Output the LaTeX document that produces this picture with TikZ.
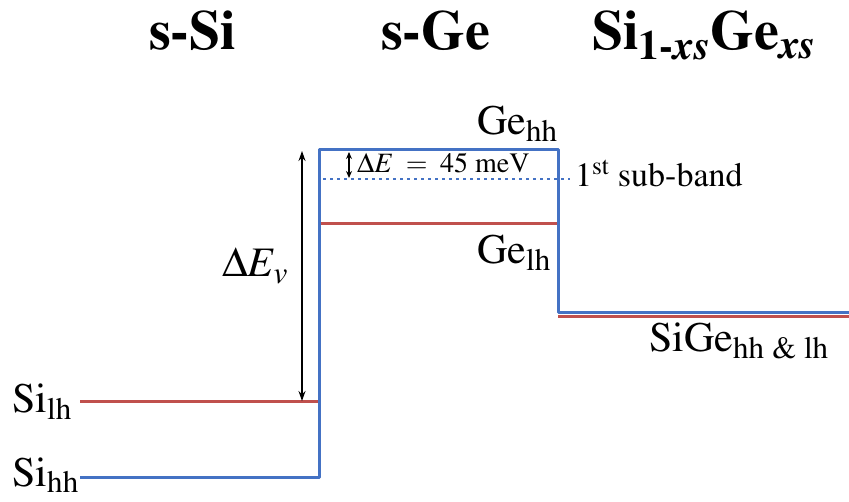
\documentclass[tikz,border=0pt]{standalone}
\usepackage[T1]{fontenc}
\usepackage{mathptmx}
\usetikzlibrary{arrows.meta}

\definecolor{bandblue}{RGB}{68,114,196}
\definecolor{bandred}{RGB}{192,80,77}
\newcommand{\lo}[1]{\textsubscript{#1}}

\tikzset{
  hh/.style={bandblue, line width=3pt},
  lh/.style={bandred, line width=3pt},
  lbl/.style={inner sep=0pt, anchor=base west, font=\fontsize{42}{46}\selectfont},
  ttl/.style={inner sep=0pt, anchor=base west, font=\fontsize{56}{60}\selectfont\bfseries},
}

\begin{document}
\begin{tikzpicture}[x=1pt,y=-1pt]
	\useasboundingbox (0,0) rectangle (849,502);
	% titles
	\node[ttl] (tSi) at (149,50) {s-Si};
	\node[ttl] (tGe) at (381,50) {s-Ge};
	\node[ttl] (tSiGe) at (592,50) {Si\lo{1-\textit{xs}}Ge\lo{\textit{xs}}};
	% corners of the bands
	\coordinate (hhA) at (80,477);
	\coordinate (hhB) at (319,477);
	\coordinate (hhC) at (319,150);
	\coordinate (hhD) at (558,150);
	\coordinate (hhE) at (558,313);
	\coordinate (hhF) at (849,313);
	\coordinate (lhA) at (80,402);
	\coordinate (lhB) at (319,402);
	\coordinate (lhC) at (319,224);
	\coordinate (lhD) at (558,224);
	\coordinate (lhE) at (558,317);
	\coordinate (lhF) at (849,317);
	% light holes
	\draw[lh] (lhA) -- (lhB);
	\draw[lh] (lhC) -- (lhD);
	\draw[lh] (lhE) -- (lhF);
	% heavy holes
	\draw[hh, line join=round] (hhA) -- (hhB) -- (hhC) -- (hhD) -- (hhE) -- (hhF);
	% sub-band
	\coordinate (sbA) at (323,179);
	\coordinate (sbB) at (570,179);
	\draw[bandblue, line width=2.6pt, dash pattern=on 2.6pt off 4.4pt] (sbA) -- (sbB);
	% offsets
	\coordinate (evT) at (302,151);
	\coordinate (evB) at (302,401);
	\draw[{Stealth[length=10pt,width=7pt]}-{Stealth[length=10pt,width=7pt]}, line width=1.3pt] (evT) -- (evB);
	\coordinate (deT) at (349,152);
	\coordinate (deB) at (349,178);
	\draw[{Stealth[length=7pt,width=6pt]}-{Stealth[length=7pt,width=6pt]}, line width=1.3pt] (deT) -- (deB);
	% labels
	\node[lbl] (Gehh) at (477,135) {Ge\lo{hh}};
	\node[lbl] (Gelh) at (477,264) {Ge\lo{lh}};
	\node[lbl] (SiGe) at (649,352) {SiGe\lo{hh \& lh}};
	\node[lbl] (Silh) at (12,413) {Si\lo{lh}};
	\node[lbl] (Sihh) at (12,486) {Si\lo{hh}};
	\node[inner sep=0pt, anchor=base west, font=\fontsize{34}{38}\selectfont] (sub) at (575,187) {1\textsuperscript{st} sub-band};
	\node[inner sep=0pt, anchor=base west, font=\fontsize{42}{46}\selectfont] (dEv) at (222,277) {$\Delta E_v$};
	\node[inner sep=0pt, anchor=base west, font=\fontsize{28}{32}\selectfont] (dE) at (357,173) {$\Delta E \;=\; 45\ \mathrm{meV}$};
\end{tikzpicture}
\end{document}
